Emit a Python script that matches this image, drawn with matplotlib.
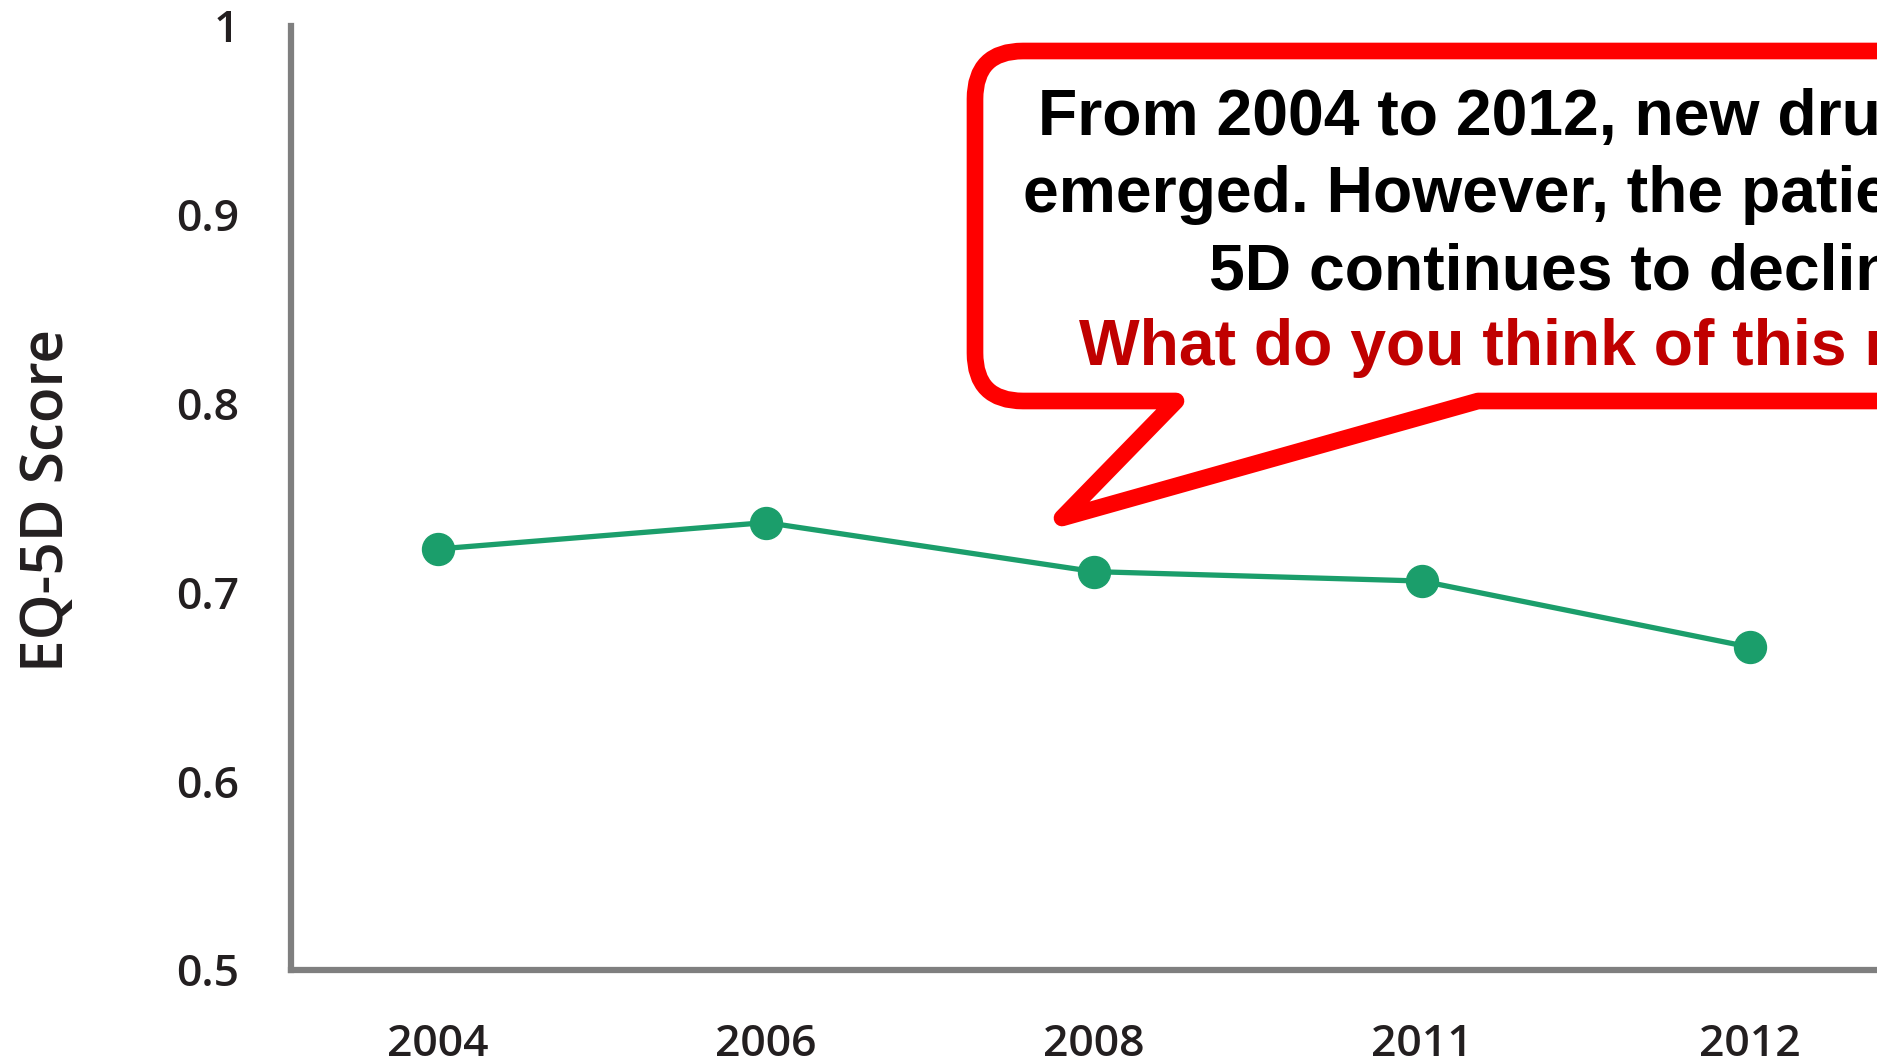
import matplotlib
matplotlib.use("Agg")
import matplotlib.pyplot as plt
from matplotlib.path import Path
from matplotlib.patches import PathPatch

# data
years = ["2004", "2006", "2008", "2011", "2012"]
scores = [0.723, 0.737, 0.711, 0.706, 0.671]
y_ticks = [0.5, 0.6, 0.7, 0.8, 0.9, 1.0]
y_tick_labels = ["0.5", "0.6", "0.7", "0.8", "0.9", "1"]

callout_lines = [
    ("From 2004 to 2012, new drugs have", "black"),
    ("emerged. However, the patient's EQ-", "black"),
    ("5D continues to decline.", "black"),
    ("What do you think of this result?", "#C00000"),
]

W, H = 1877, 1064
fig = plt.figure(figsize=(W / 100, H / 100), dpi=100)

ax = fig.add_axes([291 / W, 94 / H, 1 - 291 / W, 944 / H])
x = list(range(len(years)))
ax.plot(x, scores, color="#1B9E6B", linewidth=3.8, marker="o",
        markersize=23, zorder=3)

ax.set_xlim(-0.448, 4.387)
ax.set_ylim(0.5, 1.0)
ax.set_xticks(x)
ax.set_xticklabels(years)
ax.set_yticks(y_ticks)
ax.set_yticklabels(y_tick_labels)

for lab in ax.get_xticklabels() + ax.get_yticklabels():
    lab.set_fontfamily("Open Sans")
    lab.set_fontweight("semibold")
    lab.set_fontsize(32)
    lab.set_color("#231f20")
ax.tick_params(axis="x", length=0, pad=38)
ax.tick_params(axis="y", length=0, pad=37)

for s in ["top", "right"]:
    ax.spines[s].set_visible(False)
for s in ["left", "bottom"]:
    ax.spines[s].set_color("#7f7f7f")
    ax.spines[s].set_linewidth(4.5)

fig.text(48 / W, 1 - 500 / H, "EQ-5D Score", rotation=90, ha="center",
         va="center", fontsize=42, family="Open Sans", fontweight="semibold",
         color="#231f20")

# speech-bubble callout, drawn in pixel coordinates
ov = fig.add_axes([0, 0, 1, 1], zorder=5)
ov.set_xlim(0, W)
ov.set_ylim(H, 0)
ov.axis("off")
ov.patch.set_alpha(0)

L, T, B, R, r = 975, 51, 401, W + 60, 48
verts = [
    (L, T + r), (L, B - r), (L, B), (L + r, B),
    (1176, B), (1062, 518), (1478, B), (R, B), (R, T),
    (L + r, T), (L, T), (L, T + r), (L, T + r),
]
codes = [
    Path.MOVETO, Path.LINETO, Path.CURVE3, Path.CURVE3,
    Path.LINETO, Path.LINETO, Path.LINETO, Path.LINETO, Path.LINETO,
    Path.LINETO, Path.CURVE3, Path.CURVE3, Path.CLOSEPOLY,
]
bubble = PathPatch(Path(verts, codes), facecolor="white", edgecolor="#FF0000",
                   linewidth=12, joinstyle="round")
ov.add_patch(bubble)

baselines = [135, 212, 289, 365]
for (txt, col), yb in zip(callout_lines, baselines):
    ov.text(1579, yb, txt, ha="center", va="baseline", fontsize=46.3,
            fontweight="bold", family="Liberation Sans", color=col)

fig.savefig("out.png", dpi=100)
